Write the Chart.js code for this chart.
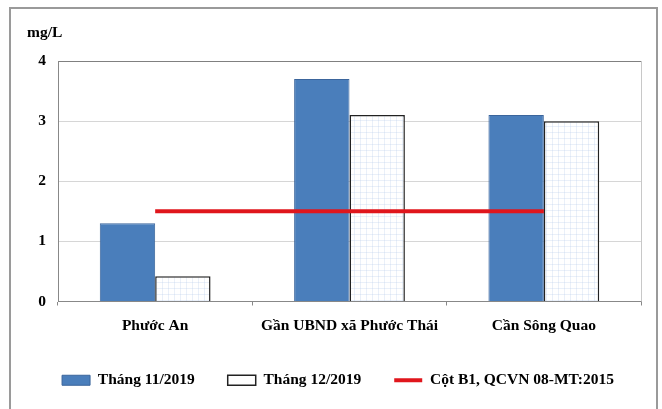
<!DOCTYPE html>
<html>
<head>
<meta charset="utf-8">
<script src="https://cdn.jsdelivr.net/npm/chart.js@4"></script>
<style>
  body { margin: 0; background: #fff; }
  #wrap { position: relative; width: 662px; height: 409px; }
  #frame { position: absolute; left: 9px; top: 7px; width: 645px; height: 404px; border: 2px solid #9a9a9a; pointer-events: none; }
</style>
</head>
<body>
<div id="wrap">
  <canvas id="chart" width="662" height="409"></canvas>
  <div id="frame"></div>
</div>
<script>
const categories = ['Phước An', 'Gần UBND xã Phước Thái', 'Cần Sông Quao'];
const thang11 = [1.3, 3.7, 3.1];
const thang12 = [0.42, 3.1, 3.0];
const quychuan = [1.5, 1.5, 1.5];
const yTicks = [0, 1, 2, 3, 4];

const font = { family: "'Liberation Serif', 'Times New Roman', serif", size: 15.5, weight: 'bold' };

// nền chấm xanh nhạt cho cột trắng
const pc = document.createElement('canvas');
pc.width = 6; pc.height = 6;
const pctx = pc.getContext('2d');
pctx.fillStyle = '#fff';
pctx.fillRect(0, 0, 6, 6);
pctx.fillStyle = 'rgba(180,200,235,0.28)';
pctx.fillRect(0, 0, 6, 1);
pctx.fillRect(0, 0, 1, 6);
const ctx = document.getElementById('chart').getContext('2d');
const pattern = ctx.createPattern(pc, 'repeat');

const extras = {
  id: 'extras',
  afterDraw(chart) {
    const c = chart.ctx, a = chart.chartArea;
    c.save();
    c.strokeStyle = '#c8c8c8';
    c.lineWidth = 1;
    c.beginPath();
    c.moveTo(Math.round(a.right) + 0.5, a.top);
    c.lineTo(Math.round(a.right) + 0.5, a.bottom);
    c.stroke();
    c.fillStyle = '#000';
    c.font = "bold 15.5px 'Liberation Serif', serif";
    c.textBaseline = 'middle';
    c.fillText('mg/L', 27, 33);
    c.restore();
  }
};

new Chart(ctx, {
  type: 'bar',
  data: {
    labels: categories,
    datasets: [
      {
        label: 'Tháng 11/2019',
        data: thang11,
        backgroundColor: '#4a7ebb',
        borderColor: '#3b659c',
        borderWidth: 1,
        pointStyle: 'rect',
        order: 1
      },
      {
        label: 'Tháng 12/2019',
        data: thang12,
        backgroundColor: pattern,
        borderColor: '#222',
        borderWidth: 1.5,
        pointStyle: 'rect',
        order: 1
      },
      {
        type: 'line',
        label: 'Cột B1, QCVN 08-MT:2015',
        data: quychuan,
        borderColor: '#e0161c',
        borderWidth: 4,
        pointRadius: 0,
        pointStyle: 'line',
        pointBorderColor: '#e0161c',
        pointBorderWidth: 4,
        order: 0
      }
    ]
  },
  options: {
    responsive: false,
    animation: false,
    layout: { padding: { left: 24, right: 10, top: 61, bottom: 11 } },
    datasets: { bar: { categoryPercentage: 0.57, barPercentage: 1 } },
    scales: {
      x: {
        afterFit: s => { s.height = 38; },
        grid: { drawOnChartArea: false, drawTicks: true, tickLength: 4, color: '#888', offset: true },
        border: { color: '#888' },
        ticks: { color: '#000', font: font, padding: 11 }
      },
      y: {
        min: 0,
        max: 4,
        afterFit: s => { s.width = 34; },
        afterBuildTicks: s => { s.ticks = yTicks.map(v => ({ value: v })); },
        grid: { drawTicks: false, color: c => c.tick && c.tick.value === 4 ? '#808080' : '#d6d6d6' },
        border: { color: '#888' },
        ticks: { color: '#000', font: font, padding: 12 }
      },
      // trục phụ ẩn, chỉ để chừa lề phải
      y2: {
        position: 'right',
        afterFit: s => { s.width = 11; },
        grid: { display: false },
        border: { display: false },
        ticks: { display: false }
      }
    },
    plugins: {
      legend: {
        position: 'bottom',
        labels: {
          color: '#000',
          font: font,
          usePointStyle: true,
          pointStyleWidth: 28,
          boxHeight: 10,
          padding: 33,
          generateLabels: chart => {
            const items = Chart.defaults.plugins.legend.labels.generateLabels(chart);
            items.forEach(it => { if (it.datasetIndex === 1) it.fillStyle = '#fff'; });
            return items;
          },
          sort: (a, b) => a.datasetIndex - b.datasetIndex
        }
      },
      tooltip: { enabled: false }
    }
  },
  plugins: [extras]
});
</script>
</body>
</html>
